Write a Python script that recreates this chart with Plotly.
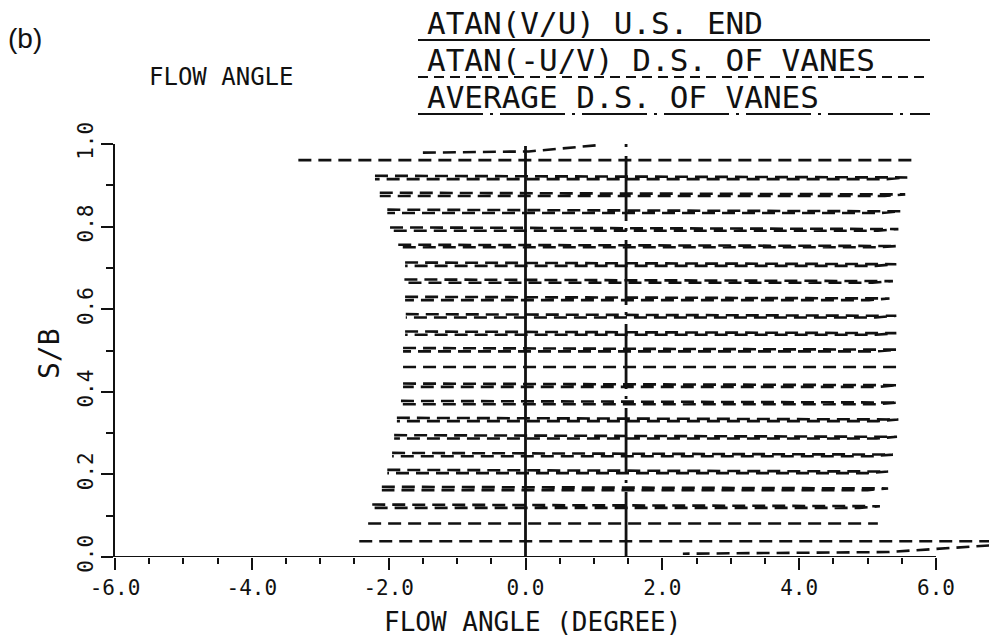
import plotly.graph_objects as go

# ---------------- data ----------------
# ATAN(-U/V) D.S. OF VANES : traced as rows (S/B level, left end, right end, out/return gap)
row_y = [0.961, 0.919, 0.878, 0.837, 0.794, 0.753, 0.709, 0.668, 0.626, 0.584, 0.542, 0.502,
         0.460, 0.416, 0.374, 0.333, 0.291, 0.248, 0.207, 0.166, 0.123, 0.081, 0.038]
row_left = [-3.32, -2.20, -2.13, -2.02, -1.98, -1.86, -1.76, -1.77, -1.76, -1.75, -1.76, -1.79,
            -1.79, -1.79, -1.82, -1.88, -1.92, -1.95, -2.02, -2.10, -2.24, -2.30, -2.43]
row_right = [5.65, 5.58, 5.55, 5.49, 5.45, 5.43, 5.42, 5.37, 5.32, 5.42, 5.42, 5.43,
             5.43, 5.45, 5.45, 5.45, 5.43, 5.37, 5.30, 5.30, 5.18, 5.15, 6.78]
row_gap = [0.0, 0.008, 0.008, 0.008, 0.008, 0.006, 0.008, 0.008, 0.008, 0.008, 0.008, 0.008,
           0.0, 0.008, 0.008, 0.008, 0.008, 0.008, 0.008, 0.008, 0.008, 0.0, 0.0]
crest_x = [-1.50, 0.05, 1.05]
crest_y = [0.979, 0.982, 0.997]
tail_x = [6.78, 5.30, 2.30]
tail_y = [0.028, 0.012, 0.008]

# ATAN(V/U) U.S. END
us_x = [0.0, 0.0]
us_y = [0.0, 0.995]
# AVERAGE D.S. OF VANES
avg_x = [1.47, 1.47]
avg_y = [1.0, 0.0]

x_ticks = [-6.0, -4.0, -2.0, 0.0, 2.0, 4.0, 6.0]
x_minor = [-5.5, -5.0, -4.5, -3.5, -3.0, -2.5, -1.5, -1.0, -0.5, 0.5, 1.0, 1.5,
           2.5, 3.0, 3.5, 4.5, 5.0, 5.5]
y_ticks = [0.0, 0.2, 0.4, 0.6, 0.8, 1.0]
y_minor = [0.1, 0.3, 0.5, 0.7, 0.9]

legend_labels = ["ATAN(V/U) U.S. END", "ATAN(-U/V) D.S. OF VANES", "AVERAGE D.S. OF VANES"]

# ---------------- build ----------------
MONO = "DejaVu Sans Mono"
INK = "#111111"

ds_x, ds_y = [], []
for y, l, r, g in zip(row_y, row_left, row_right, row_gap):
    if g > 0:
        ds_x += [l, r, r - 0.3, l, None]
        ds_y += [y + g / 2, y, y - g / 2, y - g / 2, None]
    else:
        ds_x += [l, r, None]
        ds_y += [y, y, None]
ds_x += crest_x + [None] + tail_x
ds_y += crest_y + [None] + tail_y

fig = go.Figure()
fig.add_trace(go.Scatter(x=ds_x, y=ds_y, mode="lines", name=legend_labels[1],
                         line=dict(color=INK, width=2.6, dash="13px,7px"),
                         connectgaps=False, hoverinfo="skip"))
fig.add_trace(go.Scatter(x=us_x, y=us_y, mode="lines", name=legend_labels[0],
                         line=dict(color=INK, width=2.8), hoverinfo="skip"))
fig.add_trace(go.Scatter(x=avg_x, y=avg_y, mode="lines", name=legend_labels[2],
                         line=dict(color=INK, width=2.8, dash="3px,9px,65px,7px"),
                         hoverinfo="skip"))

L, T, W, H = 115, 144, 874, 413
def px(v):
    return (v - L) / W
def py(v):
    return (T + H - v) / H

XMAX = 6 + (989 - 936) / 68.42

shapes = [
    dict(type="line", xref="x", yref="y", x0=-6, x1=6, y0=0, y1=0,
         line=dict(color=INK, width=2.2)),
]
legend_line_y = [40, 77, 114]
legend_text_y = [23, 60, 97]
legend_dash = ["solid", "10px,6px", "65px,7px,3px,7px"]
for ly, dsh in zip(legend_line_y, legend_dash):
    shapes.append(dict(type="line", xref="paper", yref="paper",
                       x0=px(418), x1=px(930), y0=py(ly), y1=py(ly),
                       line=dict(color=INK, width=2, dash=dsh)))

annotations = [
    dict(text="(b)", x=px(7), y=py(38), xref="paper", yref="paper", xanchor="left",
         yanchor="middle", showarrow=False, borderpad=0,
         font=dict(family="Liberation Sans, Arial", size=28, color=INK)),
    dict(text="FLOW ANGLE", x=px(148), y=py(77), xref="paper", yref="paper", xanchor="left",
         yanchor="middle", showarrow=False, borderpad=0,
         font=dict(family=MONO, size=24, color=INK)),
    dict(text="FLOW ANGLE (DEGREE)", x=px(532), y=py(622), xref="paper", yref="paper",
         xanchor="center", yanchor="middle", showarrow=False,
         font=dict(family=MONO, size=26, color=INK)),
    dict(text="S/B", x=px(49), y=py(354), xref="paper", yref="paper", xanchor="center",
         yanchor="middle", showarrow=False, textangle=-90,
         font=dict(family=MONO, size=28, color=INK)),
]
for lab, ty in zip(legend_labels, legend_text_y):
    annotations.append(dict(text=lab, x=px(426), y=py(ty), xref="paper", yref="paper",
                            xanchor="left", yanchor="middle", showarrow=False, borderpad=0,
                            font=dict(family=MONO, size=31, color=INK)))

fig.update_layout(
    width=989, height=644,
    margin=dict(l=L, r=989 - L - W, t=T, b=644 - T - H, pad=0),
    paper_bgcolor="white", plot_bgcolor="white",
    showlegend=False,
    shapes=shapes, annotations=annotations,
    xaxis=dict(range=[-6, XMAX], showgrid=False, zeroline=False, showline=False,
               tickmode="array", tickvals=x_ticks,
               ticktext=["%.1f" % v for v in x_ticks],
               ticks="outside", ticklen=12, tickwidth=2, tickcolor=INK,
               tickfont=dict(family=MONO, size=21, color=INK),
               minor=dict(tickmode="array", tickvals=x_minor, ticks="outside",
                          ticklen=6, tickwidth=2, tickcolor=INK)),
    yaxis=dict(range=[0, 1], showgrid=False, zeroline=False, showline=True,
               linecolor=INK, linewidth=2.2,
               tickmode="array", tickvals=y_ticks,
               ticktext=["%.1f" % v for v in y_ticks],
               ticks="outside", ticklen=12, tickwidth=2, tickcolor=INK, tickangle=-90,
               tickfont=dict(family=MONO, size=21, color=INK),
               minor=dict(tickmode="array", tickvals=y_minor, ticks="outside",
                          ticklen=7, tickwidth=2, tickcolor=INK)),
)

fig.write_html("out.html")
